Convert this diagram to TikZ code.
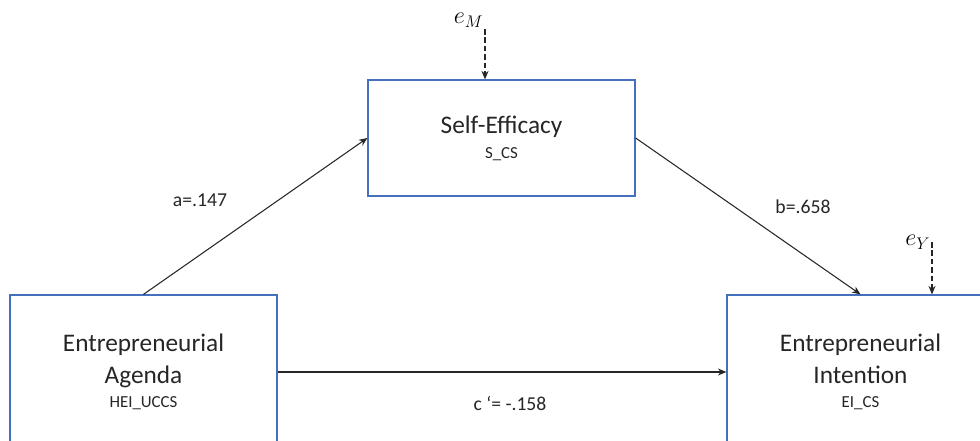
\documentclass[tikz,border=0pt]{standalone}
\usepackage{fontspec}
\setmainfont{Carlito}
\usetikzlibrary{arrows.meta}
\definecolor{boxblue}{RGB}{70,112,190}
\definecolor{inkgray}{RGB}{38,38,38}
\tikzset{
  var/.style={draw=boxblue, line width=0.9pt, minimum width=6.675cm, align=center,
    text=inkgray, font=\fontsize{18}{22.7}\selectfont},
  effect/.style={draw=inkgray, line width=0.75pt, -{Stealth[length=6pt,width=5pt]}},
  errarrow/.style={effect, dash pattern=on 4pt off 2pt},
  coef/.style={text=inkgray, font=\fontsize{14}{17}\selectfont},
  errlabel/.style={inner sep=1pt, font=\fontsize{18}{21}\selectfont}
}
\newcommand{\varcode}[1]{{\fontsize{12}{14}\selectfont #1}}

\begin{document}
\begin{tikzpicture}
\useasboundingbox (0,0) rectangle (24.5,11.025);
% Variables
\node[var, minimum height=2.9cm] (se) at (12.5375,7.575) {Self-Efficacy\\[-5pt]\varcode{S\_CS}};
\node[var, minimum height=3.85cm] (ea) at (3.5875,1.725) {Entrepreneurial\\Agenda\\[-6pt]\varcode{HEI\_UCCS}};
\node[var, minimum height=3.85cm] (ei) at (21.5125,1.725) {Entrepreneurial\\Intention\\[-6pt]\varcode{EI\_CS}};
% Paths
\draw[effect] (ea.north) -- (se.west);
\draw[effect] (se.east) -- (ei.north);
\draw[effect] (ea.east) -- (ei.west);
% Error terms
\coordinate (eM) at (12.125,10.3);
\coordinate (eY) at (23.3,4.975);
\draw[errarrow] (eM) -- (eM |- se.north);
\draw[errarrow] (eY) -- (eY |- ei.north);
\node[errlabel, anchor=south east] (eMlab) at (eM) {$e_M$};
\node[errlabel, anchor=east] (eYlab) at (eY) {$e_Y$};
% Coefficients
\node[coef] (acoef) at (5.0,6.025) {a=.147};
\node[coef] (bcoef) at (20.075,5.85) {b=.658};
\node[coef] (ccoef) at (12.75,0.95) {c ‘= -.158};
\end{tikzpicture}
\end{document}
